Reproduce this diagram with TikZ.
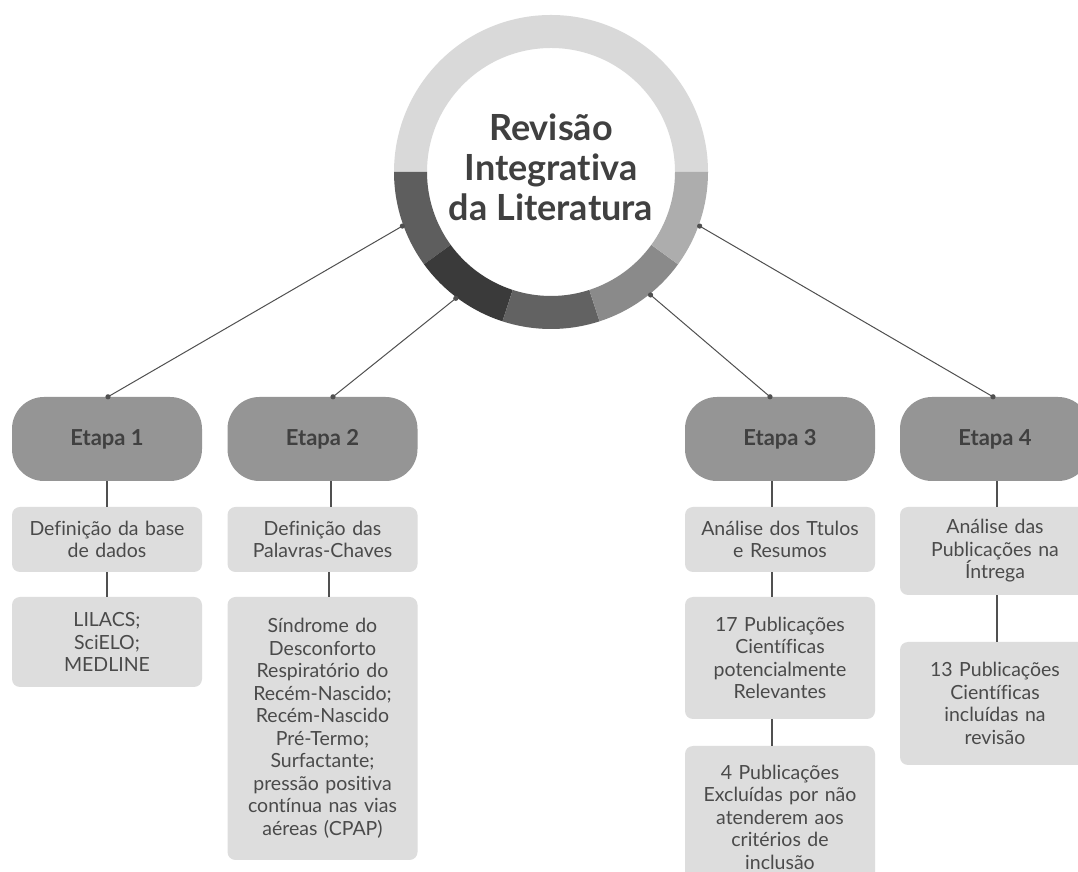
\documentclass[tikz,border=0pt]{standalone}
\usepackage{fontspec}
\setmainfont{Lato}[Ligatures=NoCommon]
\definecolor{ringtop}{HTML}{D9D9D9}
\definecolor{segA}{HTML}{5E5E5E}
\definecolor{segB}{HTML}{3A3A3A}
\definecolor{segC}{HTML}{626262}
\definecolor{segD}{HTML}{8A8A8A}
\definecolor{segE}{HTML}{ADADAD}
\definecolor{etgray}{HTML}{959595}
\definecolor{subgray}{HTML}{DDDDDD}
\definecolor{txtgray}{HTML}{4A4A4A}
\definecolor{titlegray}{HTML}{404040}
\definecolor{linegray}{HTML}{505050}
\newcommand{\ringseg}[3]{%
  \fill[#3] ([shift={(#1:157)}]551,700) arc[start angle=#1,end angle=#2,radius=157]
    -- ([shift={(#2:124)}]551,700) arc[start angle=#2,end angle=#1,radius=124] -- cycle;}
\begin{document}
\begin{tikzpicture}[x=1pt,y=1pt,
  etapa/.style={rectangle, rounded corners=32pt, fill=etgray, minimum width=190pt,
    minimum height=84pt, inner sep=0pt, text=titlegray, font=\fontsize{22}{26}\selectfont\bfseries},
  sub/.style={rectangle, rounded corners=8pt, fill=subgray, minimum width=190pt,
    text width=186pt, align=center, inner sep=0pt, text=txtgray,
    font=\fontsize{19.5}{22.5}\selectfont},
  conn/.style={draw=linegray, line width=1pt},
  vline/.style={draw=linegray, line width=1.2pt},
  dot/.style={fill=linegray}]
\useasboundingbox (0,0) rectangle (1078,872);
\clip (0,0) rectangle (1078,872);
\fill[white] (0,0) rectangle (1078,872);

% segmented ring
\ringseg{0}{180}{ringtop}
\ringseg{180}{216}{segA}
\ringseg{216}{252}{segB}
\ringseg{252}{288}{segC}
\ringseg{288}{324}{segD}
\ringseg{324}{360}{segE}
\node[circle, minimum size=316pt, inner sep=0pt] (ring) at (551,700) {};
\node[align=center, text=titlegray, font=\fontsize{36}{40}\selectfont\bfseries] (title) at (551,705)
  {Revisão\\Integrativa\\da Literatura};

% stages
\node[etapa] (e1) at (107,433) {Etapa 1};
\node[etapa] (e2) at (322.5,433) {Etapa 2};
\node[etapa] (e3) at (780,433) {Etapa 3};
\node[etapa] (e4) at (995,433) {Etapa 4};

% detail boxes
\node[sub, minimum height=65pt] (a1) at (107,332.5) {Definição da base\\de dados};
\node[sub, minimum height=90pt] (b1) at (107,230) {LILACS;\\SciELO;\\MEDLINE};
\node[sub, minimum height=65pt] (a2) at (322.5,332.5) {Definição das\\Palavras-Chaves};
\node[sub, minimum height=263pt] (b2) at (322.5,143.5) {Síndrome do\\Desconforto\\Respiratório do\\Recém-Nascido;\\Recém-Nascido\\Pré-Termo;\\Surfactante;\\pressão positiva\\contínua nas vias\\aéreas (CPAP)};
\node[sub, minimum height=65pt] (a3) at (780,332.5) {Análise dos Ttulos\\e Resumos};
\node[sub, minimum height=122pt] (b3) at (780,214) {17 Publicações\\Científicas\\potencialmente\\Relevantes};
\node[sub, minimum height=142pt] (c3) at (780,55) {4 Publicações\\Excluídas por não\\atenderem aos\\critérios de\\inclusão};
\node[sub, minimum height=88pt] (a4) at (995,321) {Análise das\\Publicações na\\Íntrega};
\node[sub, minimum height=123pt] (b4) at (995,168.5) {13 Publicações\\Científicas\\incluídas na\\revisão};

% connectors from the ring to the stages
\coordinate (p1) at ([xshift=1pt]e1.north);
\coordinate (p2) at ([xshift=10.5pt]e2.north);
\coordinate (p3) at ([xshift=-10pt]e3.north);
\coordinate (p4) at ([xshift=-2pt]e4.north);
\draw[conn] (ring.200) -- (p1);
\draw[conn] (ring.233) -- (p2);
\draw[conn] (ring.309) -- (p3);
\draw[conn] (ring.340) -- (p4);
\foreach \p in {ring.200,ring.233,ring.309,ring.340,p1,p2,p3,p4}
  \fill[dot] (\p) circle[radius=2.6pt];

% vertical links inside each column
\draw[vline] (e1.south) -- (a1.north);
\draw[vline] (a1.south) -- (b1.north);
\draw[vline] ([xshift=8.5pt]e2.south) -- ([xshift=8.5pt]a2.north);
\draw[vline] ([xshift=6.5pt]a2.south) -- ([xshift=6.5pt]b2.north);
\draw[vline] ([xshift=-8pt]e3.south) -- ([xshift=-8pt]a3.north);
\draw[vline] ([xshift=-8pt]a3.south) -- ([xshift=-8pt]b3.north);
\draw[vline] ([xshift=-8pt]b3.south) -- ([xshift=-8pt]c3.north);
\draw[vline] ([xshift=2pt]e4.south) -- ([xshift=2pt]a4.north);
\draw[vline] ([xshift=2pt]a4.south) -- ([xshift=2pt]b4.north);
\end{tikzpicture}
\end{document}
